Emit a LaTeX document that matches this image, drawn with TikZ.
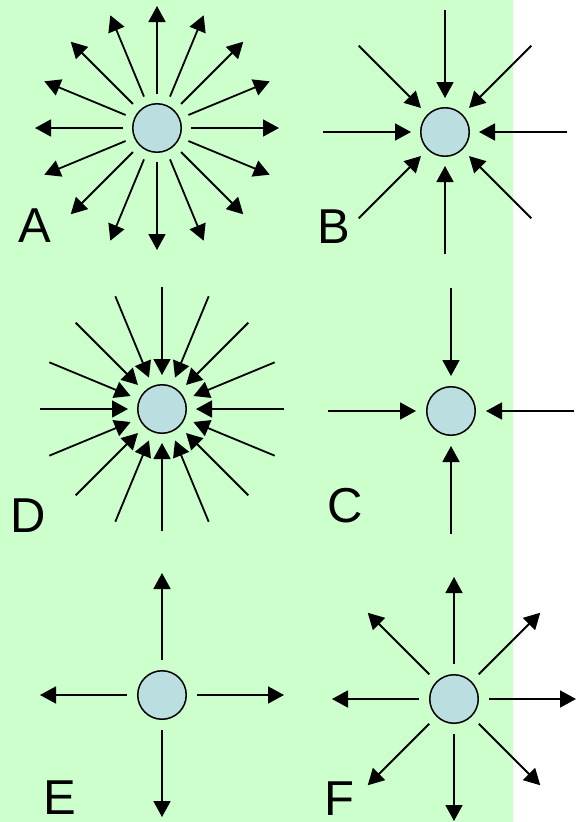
\documentclass[tikz,border=0pt]{standalone}
\usepackage{fontspec}
\setmainfont{Liberation Sans}
\usetikzlibrary{arrows.meta}
\definecolor{vertfond}{RGB}{204,255,204}
\definecolor{bleucharge}{RGB}{187,222,224}

\begin{document}
\begin{tikzpicture}[x=1pt,y=-1pt,
  charge/.style={circle,draw,line width=1.5pt,fill=bleucharge,minimum size=48.5pt,inner sep=0pt},
  ligne/.style={line width=1.8pt,-{Triangle[length=16pt,width=17pt]}},
  lettre/.style={font=\fontsize{49}{49}\selectfont,inner sep=0pt}]
\useasboundingbox (0,0) rectangle (580,822);
\fill[vertfond] (0,0) rectangle (513,822);
% the six charges
\node[charge] (chA) at (157,128) {};
\node[charge] (chB) at (445,132) {};
\node[charge] (chD) at (162,409) {};
\node[charge] (chC) at (451,411) {};
\node[charge] (chE) at (162,695) {};
\node[charge] (chF) at (454,699) {};
\node[lettre] (labA) at (35,226) {A};
\node[lettre] (labB) at (334,227) {B};
\node[lettre] (labD) at (28,516) {D};
\node[lettre] (labC) at (345,506) {C};
\node[lettre] (labE) at (60,798) {E};
\node[lettre] (labF) at (339,799) {F};
% outward lines
\foreach \a in {0,22.5,...,337.5}
  \draw[ligne] ([shift={(\a:34pt)}]chA.center) -- ([shift={(\a:122pt)}]chA.center);
\foreach \a in {0,90,...,270}
  \draw[ligne] ([shift={(\a:35pt)}]chE.center) -- ([shift={(\a:122pt)}]chE.center);
\foreach \a in {0,45,...,315}
  \draw[ligne] ([shift={(\a:35pt)}]chF.center) -- ([shift={(\a:122pt)}]chF.center);
% inward lines
\foreach \a in {0,45,...,315}
  \draw[ligne] ([shift={(\a:122pt)}]chB.center) -- ([shift={(\a:34pt)}]chB.center);
\foreach \a in {0,22.5,...,337.5}
  \draw[ligne] ([shift={(\a:122pt)}]chD.center) -- ([shift={(\a:34pt)}]chD.center);
\foreach \a in {0,90,...,270}
  \draw[ligne] ([shift={(\a:123pt)}]chC.center) -- ([shift={(\a:35pt)}]chC.center);
\end{tikzpicture}
\end{document}
